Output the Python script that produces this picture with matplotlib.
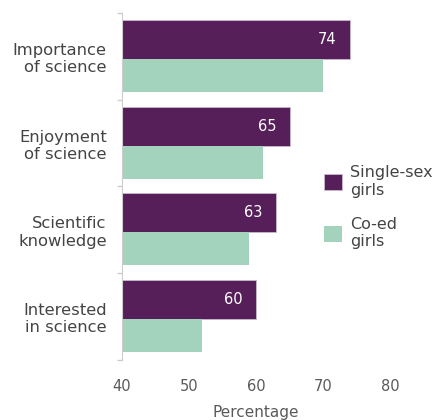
"""grouped horizontal bars: attitudes to science, single-sex vs co-ed girls
"""

import numpy as np
import matplotlib.pyplot as plt
from matplotlib.ticker import FixedLocator

categories = ['Importance\nof science', 'Enjoyment\nof science',
              'Scientific\nknowledge', 'Interested\nin science']
single_sex = [74, 65, 63, 60]
co_ed = [70, 61, 59, 52]
series_labels = ['Single-sex\ngirls', 'Co-ed\ngirls']
x_ticks = [40, 50, 60, 70, 80]

PURPLE = '#561f5a'
GREEN = '#a3d3bc'
TEXT = '#444444'
GREY = '#5a5a5a'

plt.rcParams['font.family'] = ['DejaVu Sans']

fig = plt.figure(figsize=(4.34, 4.2), dpi=100)
ax = fig.add_axes([0.281, 0.143, 0.618, 0.826])

y = np.arange(len(categories))
h_top = 0.45
h_bot = 0.38
top_start = y - 0.5 + 0.08

ax.barh(top_start, np.array(single_sex) - 40, left=40, height=h_top,
        align='edge', color=PURPLE, edgecolor='#c9b9cc', linewidth=0.6,
        label=series_labels[0])
ax.barh(top_start + h_top, np.array(co_ed) - 40, left=40, height=h_bot,
        align='edge', color=GREEN, label=series_labels[1])

for yi, v in zip(top_start + h_top / 2, single_sex):
    ax.text(v - 2, yi, str(v), ha='right', va='center', color='white',
            fontsize=10.5)

ax.set_xlim(40, 80)
ax.set_ylim(len(categories) - 0.5, -0.5)
ax.set_xticks(x_ticks)
ax.set_xticklabels([str(t) for t in x_ticks])
ax.tick_params(axis='x', length=0, pad=14, labelsize=10.5, labelcolor=GREY)

ax.set_yticks(y)
ax.set_yticklabels(categories, fontsize=11.8, color=TEXT)
ax.tick_params(axis='y', which='major', length=0, pad=11)
ax.yaxis.set_minor_locator(FixedLocator(np.arange(len(categories) + 1) - 0.5))
ax.tick_params(axis='y', which='minor', length=3.6, width=1, color='#cccccc')

for side in ['top', 'right', 'bottom']:
    ax.spines[side].set_visible(False)
ax.spines['left'].set_color('#cccccc')

ax.set_xlabel('Percentage', fontsize=11, color=GREY, labelpad=8)

ax.legend(loc='center left', bbox_to_anchor=(0.7465, 0.506),
          bbox_transform=fig.transFigure, frameon=False, fontsize=11.5,
          handlelength=1.15, handleheight=1.15, handletextpad=0.5,
          labelspacing=1.2, borderpad=0, borderaxespad=0, labelcolor=TEXT)

fig.savefig('out.png')
